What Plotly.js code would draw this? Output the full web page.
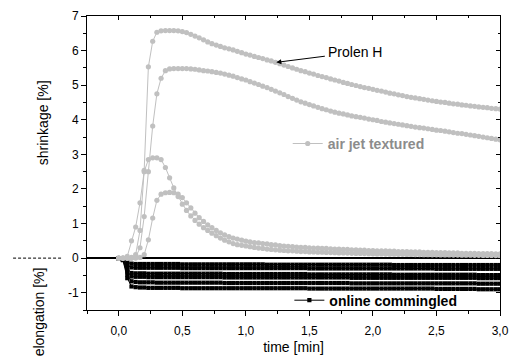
<!DOCTYPE html>
<html>
<head>
<meta charset="utf-8">
<script src="https://cdn.plot.ly/plotly-3.0.1.min.js"></script>
<style>html,body{margin:0;padding:0;background:#fff;}#chart{width:510px;height:358px;}</style>
</head>
<body>
<div id="chart"></div>
<script>
// time [min]
const time = [0,0.033,0.067,0.1,0.133,0.167,0.2,0.233,0.267,0.3,
0.333,0.367,0.4,0.433,0.467,0.5,0.533,0.567,0.6,0.633,
0.667,0.7,0.733,0.767,0.8,0.833,0.867,0.9,0.933,0.967,
1,1.033,1.067,1.1,1.133,1.167,1.2,1.233,1.267,1.3,
1.333,1.367,1.4,1.433,1.467,1.5,1.533,1.567,1.6,1.633,
1.667,1.7,1.733,1.767,1.8,1.833,1.867,1.9,1.933,1.967,
2,2.033,2.067,2.1,2.133,2.167,2.2,2.233,2.267,2.3,
2.333,2.367,2.4,2.433,2.467,2.5,2.533,2.567,2.6,2.633,
2.667,2.7,2.733,2.767,2.8,2.833,2.867,2.9,2.933,2.967,3];

// air jet textured (shrinkage, %) - top curve is Prolen H
const airJetA = [0,0,0,0.02,0.1,0.8,2.54,5.53,6.27,6.53,
6.57,6.58,6.58,6.58,6.57,6.55,6.52,6.47,6.42,6.37,
6.31,6.25,6.2,6.16,6.12,6.08,6.05,6.02,5.98,5.94,
5.9,5.87,5.83,5.8,5.77,5.73,5.7,5.66,5.62,5.58,
5.54,5.5,5.46,5.42,5.39,5.35,5.32,5.28,5.25,5.22,
5.18,5.15,5.12,5.08,5.05,5.02,4.99,4.96,4.93,4.91,
4.88,4.85,4.83,4.8,4.77,4.75,4.72,4.7,4.67,4.65,
4.63,4.61,4.59,4.57,4.55,4.53,4.51,4.5,4.48,4.46,
4.45,4.43,4.42,4.4,4.39,4.37,4.36,4.35,4.33,4.32,4.31];
const airJetB = [0,0,0,0,0.02,0.3,1.2,2.5,3.82,4.75,
5.2,5.42,5.47,5.48,5.48,5.48,5.48,5.47,5.46,5.44,
5.42,5.41,5.39,5.37,5.35,5.32,5.29,5.26,5.22,5.18,
5.15,5.1,5.06,5.02,4.97,4.93,4.88,4.83,4.78,4.73,
4.67,4.62,4.57,4.52,4.48,4.44,4.4,4.36,4.32,4.29,
4.25,4.22,4.19,4.17,4.14,4.11,4.09,4.07,4.05,4.02,
4.0,3.98,3.95,3.93,3.91,3.89,3.87,3.85,3.83,3.81,
3.79,3.77,3.76,3.74,3.72,3.7,3.69,3.67,3.65,3.63,
3.61,3.6,3.58,3.56,3.54,3.52,3.5,3.48,3.46,3.44,3.42];
const airJetC = [0,0,0.05,0.5,0.9,1.6,2.5,2.85,2.9,2.9,
2.85,2.62,2.32,2.03,1.78,1.56,1.38,1.22,1.09,0.98,
0.88,0.8,0.72,0.65,0.58,0.52,0.47,0.42,0.39,0.37,
0.35,0.33,0.31,0.29,0.28,0.26,0.25,0.24,0.23,0.22,
0.21,0.21,0.2,0.19,0.19,0.18,0.18,0.17,0.17,0.165,
0.16,0.155,0.15,0.148,0.145,0.14,0.137,0.134,0.131,0.128,
0.125,0.122,0.12,0.118,0.115,0.113,0.111,0.109,0.107,0.105,
0.103,0.101,0.1,0.098,0.096,0.095,0.093,0.092,0.09,0.089,
0.087,0.086,0.084,0.083,0.081,0.08,0.078,0.077,0.075,0.073,0.07];
const airJetD = [0,0,0,0,0,0.02,0.1,0.53,1.16,1.67,
1.85,1.89,1.9,1.89,1.85,1.75,1.6,1.45,1.3,1.17,
1.06,0.96,0.88,0.8,0.73,0.67,0.62,0.58,0.55,0.52,
0.49,0.47,0.45,0.44,0.42,0.41,0.39,0.38,0.36,0.35,
0.34,0.33,0.32,0.31,0.31,0.3,0.29,0.29,0.28,0.28,
0.27,0.26,0.26,0.25,0.25,0.24,0.24,0.23,0.23,0.22,
0.22,0.21,0.21,0.21,0.2,0.2,0.19,0.19,0.19,0.18,
0.18,0.18,0.17,0.17,0.17,0.16,0.16,0.16,0.15,0.15,
0.15,0.14,0.14,0.14,0.14,0.13,0.13,0.13,0.13,0.12,0.12];

// online commingled (elongation, %)
const onlineA = [0,-0.02,-0.12,-0.16,-0.17,-0.17,-0.17,-0.17,-0.17,-0.17,
-0.17,-0.17,-0.17,-0.17,-0.17,-0.18,-0.18,-0.18,-0.18,-0.18,
-0.18,-0.18,-0.18,-0.18,-0.18,-0.18,-0.18,-0.18,-0.18,-0.18,
-0.18,-0.18,-0.18,-0.18,-0.18,-0.19,-0.19,-0.19,-0.19,-0.19,
-0.19,-0.19,-0.19,-0.19,-0.19,-0.19,-0.19,-0.19,-0.19,-0.19,
-0.19,-0.19,-0.19,-0.19,-0.19,-0.19,-0.19,-0.19,-0.19,-0.19,
-0.19,-0.19,-0.19,-0.19,-0.19,-0.2,-0.2,-0.2,-0.2,-0.2,
-0.2,-0.2,-0.2,-0.2,-0.2,-0.2,-0.2,-0.2,-0.2,-0.2,
-0.2,-0.2,-0.2,-0.2,-0.2,-0.2,-0.2,-0.2,-0.2,-0.2,-0.2];
const onlineB = [0,-0.03,-0.2,-0.27,-0.28,-0.28,-0.28,-0.28,-0.28,-0.28,
-0.28,-0.28,-0.28,-0.28,-0.28,-0.29,-0.29,-0.29,-0.29,-0.29,
-0.29,-0.29,-0.29,-0.29,-0.29,-0.29,-0.29,-0.29,-0.29,-0.29,
-0.29,-0.29,-0.29,-0.29,-0.29,-0.29,-0.29,-0.29,-0.29,-0.29,
-0.29,-0.29,-0.29,-0.29,-0.29,-0.3,-0.3,-0.3,-0.3,-0.3,
-0.3,-0.3,-0.3,-0.3,-0.3,-0.3,-0.3,-0.3,-0.3,-0.3,
-0.3,-0.3,-0.3,-0.3,-0.3,-0.3,-0.3,-0.3,-0.3,-0.3,
-0.3,-0.3,-0.3,-0.3,-0.3,-0.31,-0.31,-0.31,-0.31,-0.31,
-0.31,-0.31,-0.31,-0.31,-0.31,-0.31,-0.31,-0.31,-0.31,-0.31,-0.31];
const onlineC = [0,-0.04,-0.3,-0.43,-0.44,-0.44,-0.44,-0.45,-0.45,-0.45,
-0.45,-0.45,-0.45,-0.45,-0.45,-0.45,-0.45,-0.45,-0.45,-0.45,
-0.45,-0.45,-0.45,-0.45,-0.45,-0.46,-0.46,-0.46,-0.46,-0.46,
-0.46,-0.46,-0.46,-0.46,-0.46,-0.46,-0.46,-0.46,-0.46,-0.46,
-0.46,-0.46,-0.46,-0.46,-0.46,-0.47,-0.47,-0.47,-0.47,-0.47,
-0.47,-0.47,-0.47,-0.47,-0.47,-0.47,-0.47,-0.47,-0.47,-0.47,
-0.47,-0.47,-0.47,-0.47,-0.47,-0.48,-0.48,-0.48,-0.48,-0.48,
-0.48,-0.48,-0.48,-0.48,-0.48,-0.48,-0.48,-0.48,-0.48,-0.48,
-0.48,-0.48,-0.48,-0.48,-0.48,-0.49,-0.49,-0.49,-0.49,-0.49,-0.49];
const onlineD = [0,-0.05,-0.38,-0.53,-0.54,-0.54,-0.54,-0.55,-0.55,-0.55,
-0.55,-0.55,-0.55,-0.55,-0.55,-0.55,-0.55,-0.55,-0.55,-0.55,
-0.55,-0.55,-0.55,-0.55,-0.55,-0.56,-0.56,-0.56,-0.56,-0.56,
-0.56,-0.56,-0.56,-0.56,-0.56,-0.56,-0.56,-0.56,-0.56,-0.56,
-0.56,-0.56,-0.56,-0.56,-0.56,-0.56,-0.56,-0.56,-0.56,-0.56,
-0.56,-0.56,-0.56,-0.56,-0.56,-0.57,-0.57,-0.57,-0.57,-0.57,
-0.57,-0.57,-0.57,-0.57,-0.57,-0.57,-0.57,-0.57,-0.57,-0.57,
-0.57,-0.57,-0.57,-0.57,-0.57,-0.57,-0.57,-0.57,-0.57,-0.57,
-0.57,-0.57,-0.57,-0.57,-0.57,-0.58,-0.58,-0.58,-0.58,-0.58,-0.58];
const onlineE = [0,-0.05,-0.48,-0.67,-0.69,-0.7,-0.7,-0.7,-0.7,-0.71,
-0.71,-0.71,-0.71,-0.71,-0.71,-0.71,-0.71,-0.71,-0.71,-0.71,
-0.71,-0.71,-0.71,-0.71,-0.71,-0.72,-0.72,-0.72,-0.72,-0.72,
-0.72,-0.72,-0.72,-0.72,-0.72,-0.72,-0.72,-0.72,-0.72,-0.72,
-0.72,-0.72,-0.72,-0.72,-0.72,-0.72,-0.72,-0.72,-0.72,-0.72,
-0.72,-0.72,-0.72,-0.72,-0.72,-0.73,-0.73,-0.73,-0.73,-0.73,
-0.73,-0.73,-0.73,-0.73,-0.73,-0.73,-0.73,-0.73,-0.73,-0.73,
-0.73,-0.73,-0.73,-0.73,-0.73,-0.73,-0.73,-0.73,-0.73,-0.73,
-0.73,-0.73,-0.73,-0.73,-0.73,-0.74,-0.74,-0.74,-0.74,-0.74,-0.74];
const onlineF = [0,-0.06,-0.58,-0.82,-0.84,-0.85,-0.85,-0.86,-0.86,-0.86,
-0.86,-0.86,-0.86,-0.86,-0.86,-0.87,-0.87,-0.87,-0.87,-0.87,
-0.87,-0.87,-0.87,-0.87,-0.87,-0.87,-0.87,-0.87,-0.87,-0.87,
-0.87,-0.87,-0.87,-0.87,-0.87,-0.87,-0.87,-0.87,-0.87,-0.87,
-0.87,-0.87,-0.87,-0.87,-0.87,-0.88,-0.88,-0.88,-0.88,-0.88,
-0.88,-0.88,-0.88,-0.88,-0.88,-0.88,-0.88,-0.88,-0.88,-0.88,
-0.88,-0.88,-0.88,-0.88,-0.88,-0.88,-0.88,-0.88,-0.88,-0.88,
-0.88,-0.88,-0.88,-0.88,-0.88,-0.89,-0.89,-0.89,-0.89,-0.89,
-0.89,-0.89,-0.89,-0.89,-0.89,-0.9,-0.9,-0.9,-0.9,-0.9,-0.9];

// axis ticks
const xTickVals = [0, 0.5, 1, 1.5, 2, 2.5, 3];
const xTickLabels = ['0,0', '0,5', '1,0', '1,5', '2,0', '2,5', '3,0'];
const yTickVals = [-1, 0, 1, 2, 3, 4, 5, 6, 7];
const yTickLabels = ['-1', '0', '1', '2', '3', '4', '5', '6', '7'];

const GRAY = '#c0c0c0';
const online = [onlineA, onlineB, onlineC, onlineD, onlineE, onlineF];
const airJet = [airJetA, airJetB, airJetC, airJetD];

const traces = [];
online.forEach((ys, i) => {
  traces.push({
    x: time, y: ys, type: 'scatter', mode: 'lines+markers',
    name: '<b>online commingled</b>', legend: 'legend2',
    showlegend: i === 0, legendgroup: 'online',
    line: {color: 'black', width: 1},
    marker: {symbol: 'square', size: 4.2, color: 'black'}
  });
});
airJet.forEach((ys, i) => {
  traces.push({
    x: time, y: ys, type: 'scatter', mode: 'lines+markers',
    name: '<b>air jet textured</b>', legend: 'legend',
    showlegend: i === 0, legendgroup: 'air',
    line: {color: GRAY, width: 1},
    marker: {symbol: 'circle', size: 5.2, color: GRAY}
  });
});
// carrier for mirrored axes
traces.push({x: [], y: [], xaxis: 'x2', yaxis: 'y2', showlegend: false, hoverinfo: 'skip'});

const FONT = 'Liberation Sans, Arial, Helvetica, sans-serif';
const layout = {
  width: 510, height: 358,
  margin: {l: 87, r: 10, t: 16, b: 48, pad: 0},
  paper_bgcolor: 'white', plot_bgcolor: 'white',
  font: {family: FONT, size: 12, color: 'black'},
  xaxis: {
    range: [-0.25, 3.0], tickmode: 'array', tickvals: xTickVals, ticktext: xTickLabels,
    ticks: 'outside', ticklen: 5, tickwidth: 1, tickcolor: 'black',
    showline: true, linecolor: 'black', linewidth: 1,
    showgrid: false, zeroline: false, ticklabelstandoff: 5,
    tickfont: {size: 12},
    minor: {ticks: 'outside', ticklen: 3, tickwidth: 1, tickcolor: 'black', tickmode: 'linear', tick0: 0, dtick: 0.25, showgrid: false},
    title: {text: 'time [min]', font: {size: 14}, standoff: 4}
  },
  yaxis: {
    range: [-1.5, 7], tickmode: 'array', tickvals: yTickVals, ticktext: yTickLabels,
    ticks: 'outside', ticklen: 5, tickwidth: 1, tickcolor: 'black',
    showline: true, linecolor: 'black', linewidth: 1,
    showgrid: false, zeroline: true, zerolinecolor: 'black', zerolinewidth: 1.5,
    tickfont: {size: 12},
    minor: {ticks: 'outside', ticklen: 3, tickwidth: 1, tickcolor: 'black', tickmode: 'linear', tick0: 0, dtick: 0.5, showgrid: false}
  },
  xaxis2: {
    overlaying: 'x', side: 'top', range: [-0.25, 3.0], tickmode: 'array', tickvals: xTickVals,
    showticklabels: false, ticks: 'inside', ticklen: 4, tickcolor: 'black',
    showline: true, linecolor: 'black', linewidth: 1, showgrid: false, zeroline: false,
    minor: {ticks: 'inside', ticklen: 2, tickcolor: 'black', tickmode: 'linear', tick0: 0, dtick: 0.25, showgrid: false}
  },
  yaxis2: {
    overlaying: 'y', side: 'right', range: [-1.5, 7], tickmode: 'array', tickvals: yTickVals,
    showticklabels: false, ticks: 'inside', ticklen: 4, tickcolor: 'black',
    showline: true, linecolor: 'black', linewidth: 1, showgrid: false, zeroline: false,
    minor: {ticks: 'inside', ticklen: 2, tickcolor: 'black', tickmode: 'linear', tick0: 0, dtick: 0.5, showgrid: false}
  },
  legend: {
    x: 0.486, y: 0.565, xanchor: 'left', yanchor: 'middle',
    bgcolor: 'rgba(0,0,0,0)', borderwidth: 0,
    font: {family: FONT, size: 14, color: '#8c8c8c'}
  },
  legend2: {
    x: 0.49, y: 0.032, xanchor: 'left', yanchor: 'middle',
    bgcolor: 'rgba(0,0,0,0)', borderwidth: 0,
    font: {family: FONT, size: 14, color: 'black'}
  },
  shapes: [{
    type: 'line', xref: 'paper', yref: 'paper',
    x0: -0.179, x1: -0.058, y0: 0.17647, y1: 0.17647,
    line: {color: 'black', width: 1, dash: '3px,2px'}
  }],
  annotations: [
    {x: 1.24, y: 5.66, xref: 'x', yref: 'y', text: 'Prolen H', showarrow: true,
     arrowhead: 2, arrowsize: 1, arrowwidth: 1, arrowcolor: 'black',
     ax: 79, ay: -10, borderpad: 3, font: {family: FONT, size: 14, color: 'black'}},
    {x: -0.1065, y: 3.9, xref: 'paper', yref: 'y', text: 'shrinkage [%]', textangle: -90,
     showarrow: false, xanchor: 'center', yanchor: 'middle', font: {family: FONT, size: 14, color: 'black'}},
    {x: -0.114, y: -0.163, xref: 'paper', yref: 'paper', text: 'elongation [%]', textangle: -90,
     showarrow: false, xanchor: 'center', yanchor: 'bottom', font: {family: FONT, size: 14, color: 'black'}}
  ]
};

Plotly.newPlot('chart', traces, layout, {displayModeBar: false, staticPlot: true});
</script>
</body>
</html>
